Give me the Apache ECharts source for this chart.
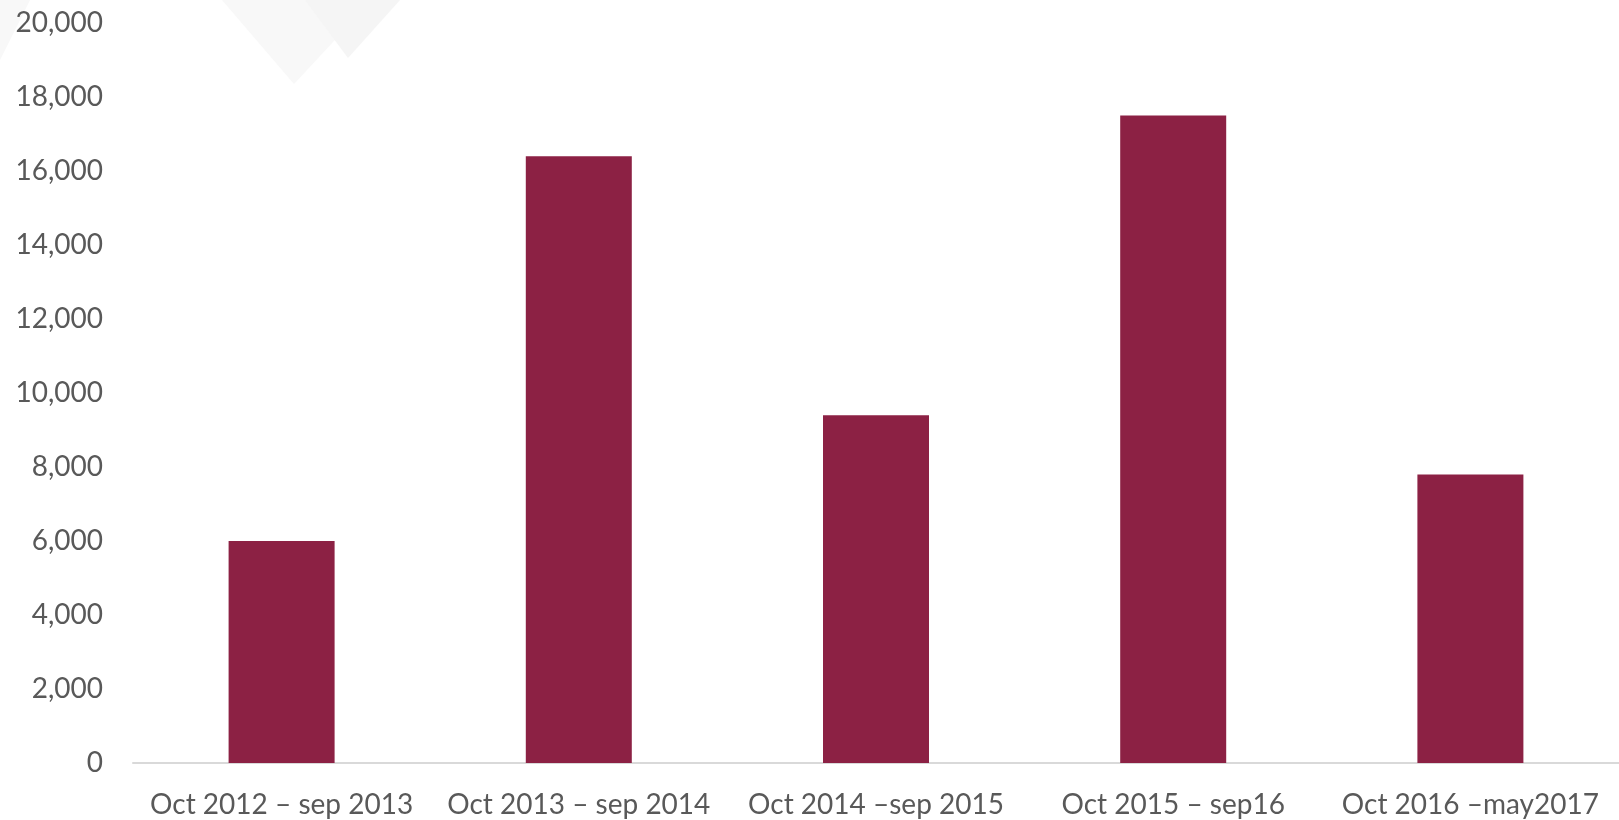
<!DOCTYPE html>
<html style="height: 100%">
<head>
    <meta charset="utf-8" />
    <title>Bar chart</title>
    <script src="https://cdn.jsdelivr.net/npm/echarts@6/dist/echarts.min.js"></script>
</head>
<body style="height: 100%; margin: 0; overflow: hidden; background: #fff">
    <div id="container" style="height: 820px; width: 1619px"></div>
    <script>
        // data
        var periods = ["Oct 2012 – sep 2013", "Oct 2013 – sep 2014", "Oct 2014 –sep 2015", "Oct 2015 – sep16", "Oct 2016 –may2017"];
        var counts = [6000, 16400, 9400, 17500, 7800];
        var yMin = 0, yMax = 20000, yStep = 2000;

        var myChart = echarts.init(document.getElementById("container"), null, { renderer: "canvas" });
        var font = "Lato, 'Open Sans', sans-serif";

        var option = {
            animation: false,
            backgroundColor: "#ffffff",
            // faint watermark shapes in the top corner
            graphic: [
                { type: "polygon", shape: { points: [[222, 0], [372, 0], [294, 84]] }, style: { fill: "#f8f8f8" }, z: -1 },
                { type: "polygon", shape: { points: [[305, 0], [400, 0], [348, 58]] }, style: { fill: "#f5f5f5" }, z: -1 },
                { type: "polygon", shape: { points: [[0, 0], [30, 0], [0, 60]] }, style: { fill: "#f8f8f8" }, z: -1 }
            ],
            grid: { left: 133, right: -9, top: 23, bottom: 57, containLabel: false },
            xAxis: {
                type: "category",
                data: periods,
                axisTick: { show: false },
                axisLine: { lineStyle: { color: "#d9d9d9", width: 2 } },
                axisLabel: { color: "#595959", fontSize: 28, fontFamily: font, margin: 28, interval: 0 }
            },
            yAxis: {
                type: "value",
                min: yMin,
                max: yMax,
                interval: yStep,
                splitLine: { show: false },
                axisLine: { show: false },
                axisTick: { show: false },
                axisLabel: {
                    color: "#595959", fontSize: 28, fontFamily: font, margin: 30,
                    formatter: function (v) { return v.toLocaleString("en-US"); }
                }
            },
            series: [{
                type: "bar",
                data: counts,
                barWidth: 106,
                itemStyle: { color: "#8c2144" }
            }]
        };
        myChart.setOption(option);
    </script>
</body>
</html>
